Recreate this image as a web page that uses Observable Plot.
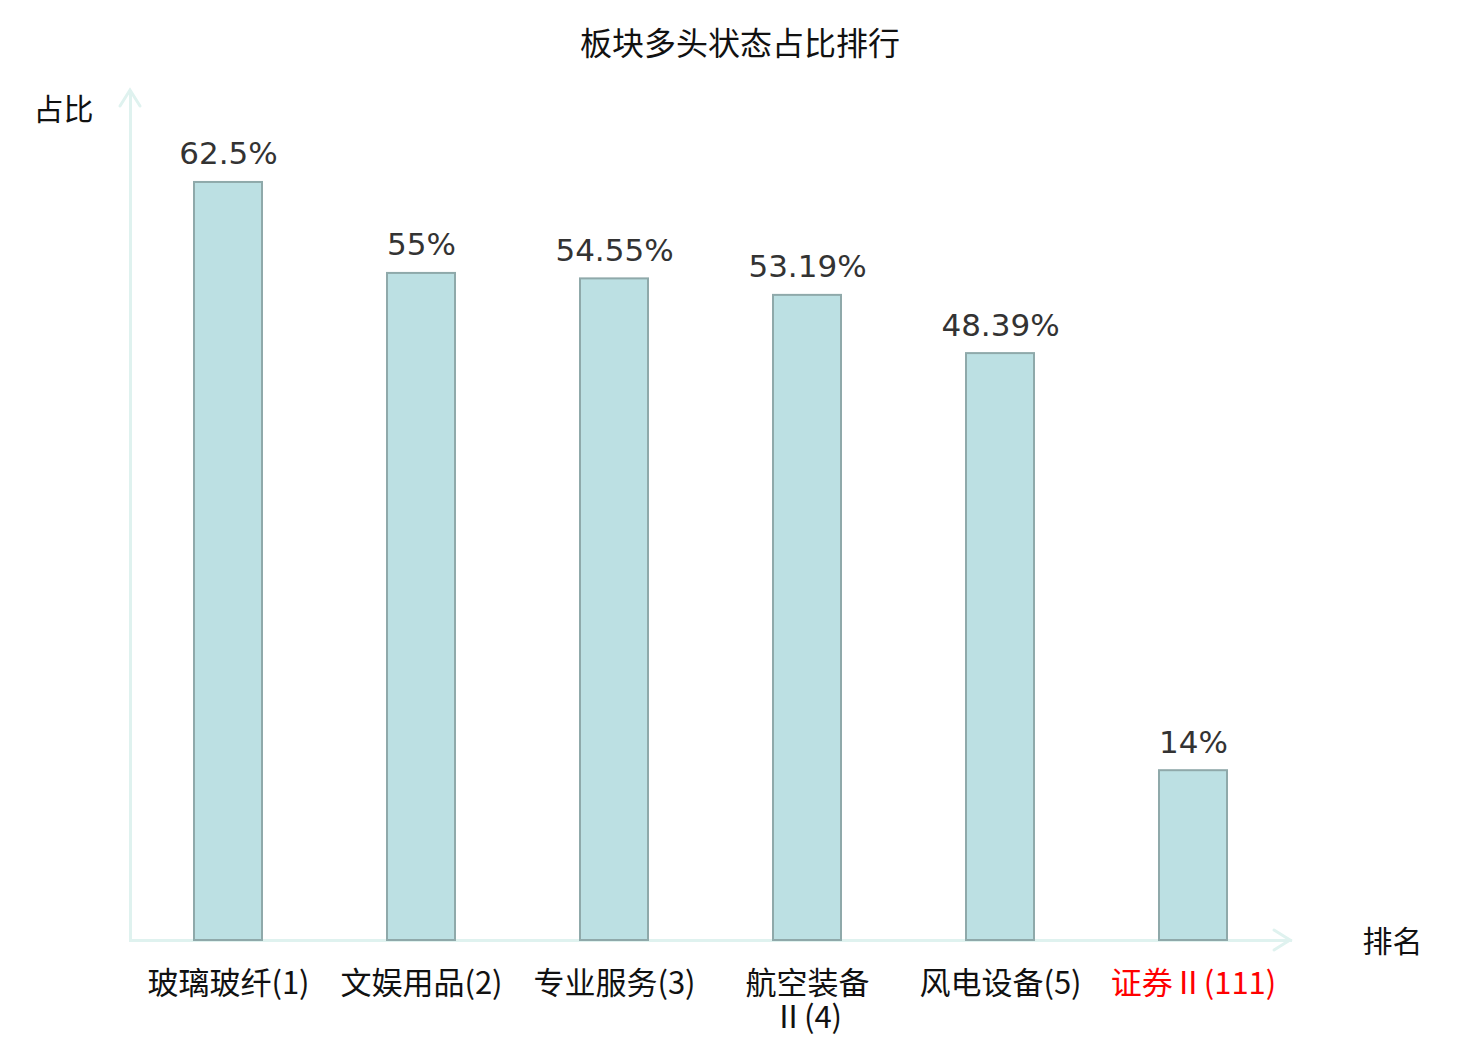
<!DOCTYPE html>
<html>
<head>
<meta charset="utf-8">
<script src="https://cdn.jsdelivr.net/npm/d3@7"></script>
<script src="https://cdn.jsdelivr.net/npm/@observablehq/plot@0.6"></script>
<style>
  body { margin: 0; background: #fff; }
  #title { height: 80px; line-height: 82px; text-align: center; font-family: "Noto Sans CJK SC", sans-serif; font-size: 32px; color: #111; }
</style>
</head>
<body>
<div id="title">板块多头状态占比排行</div>
<div id="chart"></div>
<script>
const categories = ["玻璃玻纤(1)", "文娱用品(2)", "专业服务(3)", "航空装备Ⅱ(4)", "风电设备(5)", "证券Ⅱ(111)"];
const tickLabels = ["玻璃玻纤(1)", "文娱用品(2)", "专业服务(3)", "航空装备\nⅡ(4)", "风电设备(5)", "证券Ⅱ(111)"];
const values = [62.5, 55, 54.55, 53.19, 48.39, 14];
const valueLabels = ["62.5%", "55%", "54.55%", "53.19%", "48.39%", "14%"];
const highlighted = ["证券Ⅱ(111)"];

const data = categories.map((c, i) => ({cat: c, value: values[i], label: valueLabels[i], tick: tickLabels[i], hi: highlighted.includes(c)}));

const axisColor = "#dff2ef";
const cjk = "'Noto Sans CJK SC', sans-serif";

const plot = Plot.plot({
  width: 1480,
  height: 960,
  marginLeft: 130,
  marginRight: 190,
  marginTop: 11,
  marginBottom: 100,
  x: {domain: categories, paddingInner: 0.648, paddingOuter: 0.324, axis: null},
  y: {domain: [0, 70], axis: null},
  marks: [
    Plot.frame({anchor: "left", stroke: axisColor, strokeWidth: 3, strokeOpacity: 1}),
    Plot.frame({anchor: "bottom", stroke: axisColor, strokeWidth: 3, strokeOpacity: 1}),
    Plot.barY(data, {x: "cat", y: "value", fill: "#bce0e3", stroke: "#8fa9aa", strokeWidth: 2}),
    Plot.text(data, {x: "cat", y: "value", text: "label", lineAnchor: "bottom", dy: -18, fontSize: 31, fill: "#333", fontFamily: "DejaVu Sans"}),
    Plot.text(data.filter(d => !d.hi), {x: "cat", y: () => 0, text: "tick", lineAnchor: "top", dy: 29, lineHeight: 1.1, fontSize: 31, fill: "#111", fontFamily: cjk}),
    Plot.text(data.filter(d => d.hi), {x: "cat", y: () => 0, text: "tick", lineAnchor: "top", dy: 29, lineHeight: 1.1, fontSize: 31, fill: "#ff0000", fontFamily: cjk}),
    Plot.text(["占比"], {frameAnchor: "top-left", text: d => d, dx: -67, dy: 19, lineAnchor: "middle", textAnchor: "middle", fontSize: 30, fill: "#111", fontFamily: cjk}),
    Plot.text(["排名"], {frameAnchor: "bottom-right", text: d => d, dx: 102, dy: 2, lineAnchor: "middle", textAnchor: "middle", fontSize: 30, fill: "#111", fontFamily: cjk})
  ]
});

// arrowheads at the ends of the axes
const xr = plot.scale("x").range, yr = plot.scale("y").range;
const svg = d3.select(plot);
const g = svg.append("g").attr("fill", "none").attr("stroke", axisColor).attr("stroke-width", 3).attr("stroke-linecap", "round");
g.append("path").attr("d", `M${xr[0] - 10},${yr[1] + 15} L${xr[0]},${yr[1] - 1} L${xr[0] + 10},${yr[1] + 15}`);
g.append("path").attr("d", `M${xr[1] - 16},${yr[0] - 10} L${xr[1]},${yr[0]} L${xr[1] - 16},${yr[0] + 10}`);

document.getElementById("chart").append(plot);
</script>
</body>
</html>
